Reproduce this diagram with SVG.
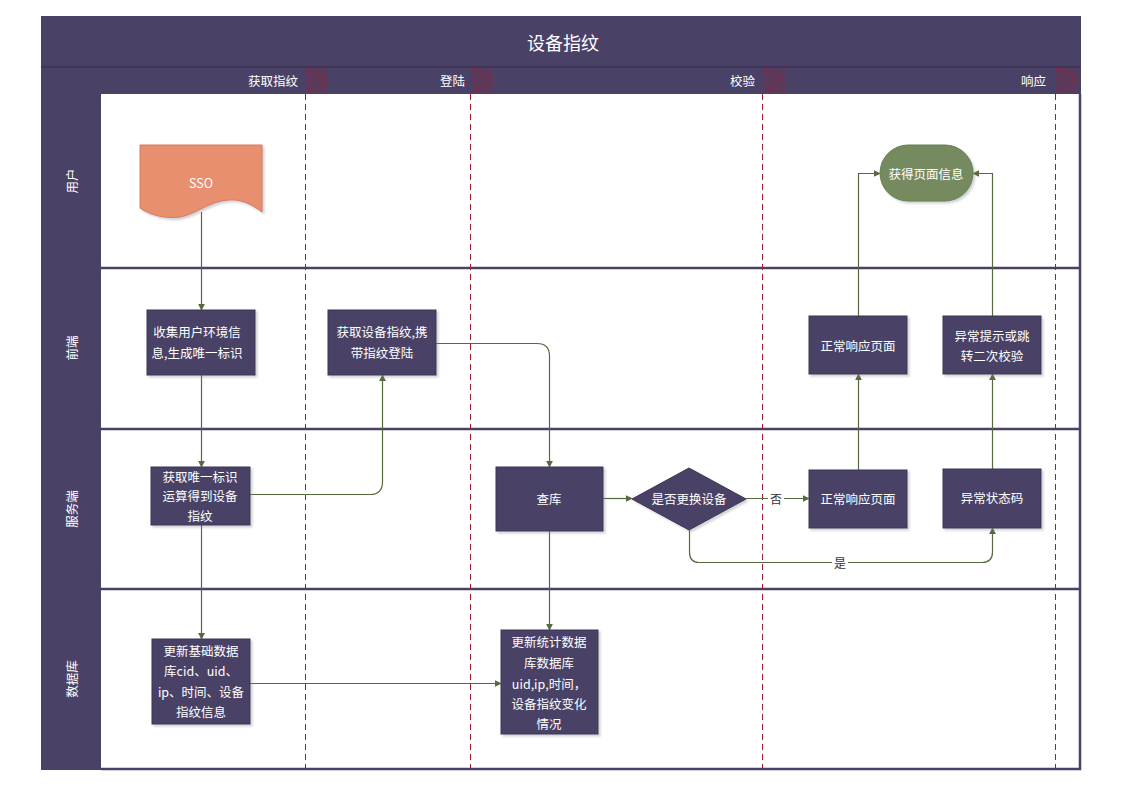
<svg xmlns="http://www.w3.org/2000/svg" width="1123" height="794" viewBox="0 0 1123 794">
  <defs>
    <style>
      .band { fill: #4A4266; }
      .sep { stroke: #3A3354; stroke-width: 1.5; fill: none; }
      .lane-line { stroke: #4A4266; stroke-width: 2.5; fill: none; }
      .phase { stroke: #A01C32; stroke-width: 1; stroke-dasharray: 6 4; fill: none; }
      .mark { fill: #A01C32; fill-opacity: 0.22; }
      .node { fill: #4A4266; stroke: #3A3354; stroke-width: 1; filter: url(#shadow); }
      .t { font-family: "Noto Sans CJK SC", "Liberation Sans", sans-serif; fill: #FFFFFF; font-size: 12.5px; text-anchor: middle; dominant-baseline: central; }
      .title { font-size: 18px; }
      .hdr { font-size: 12.5px; text-anchor: end; }
      .lbl { font-family: "Noto Sans CJK SC", "Liberation Sans", sans-serif; fill: #333333; font-size: 12px; text-anchor: middle; dominant-baseline: central; }
      .edge { stroke: #56693F; stroke-width: 1.2; fill: none; marker-end: url(#arrow); }
    </style>
    <marker id="arrow" viewBox="0 0 10 10" refX="9" refY="5" markerWidth="7" markerHeight="7" markerUnits="userSpaceOnUse" orient="auto">
      <path d="M0,0 L10,5 L0,10 Z" fill="#56693F"/>
    </marker>
    <filter id="shadow" x="-10%" y="-10%" width="130%" height="130%">
      <feDropShadow dx="2" dy="2" stdDeviation="1.2" flood-color="#8A8A9A" flood-opacity="0.4"/>
    </filter>
  </defs>

  <rect x="0" y="0" width="1123" height="794" fill="#FFFFFF"/>

  <!-- pool frame -->
  <g id="pool">
    <rect class="band" x="41" y="16" width="1040" height="78"/>
    <line class="sep" x1="41" y1="67" x2="1081" y2="67"/>
    <text class="t title" x="563" y="42">设备指纹</text>
    <rect class="band" x="41" y="93" width="60" height="677"/>
    <line class="lane-line" x1="101" y1="268" x2="1081" y2="268"/>
    <line class="lane-line" x1="101" y1="429" x2="1081" y2="429"/>
    <line class="lane-line" x1="101" y1="589" x2="1081" y2="589"/>
    <line class="lane-line" x1="101" y1="769" x2="1081" y2="769"/>
    <line class="lane-line" x1="1080" y1="94" x2="1080" y2="770"/>
    <text class="t" transform="translate(71,181) rotate(-90)">用户</text>
    <text class="t" transform="translate(71,348) rotate(-90)">前端</text>
    <text class="t" transform="translate(71,509) rotate(-90)">服务端</text>
    <text class="t" transform="translate(71,679) rotate(-90)">数据库</text>
  </g>

  <!-- phases -->
  <g id="phases">
    <text class="t hdr" x="298" y="80">获取指纹</text>
    <text class="t hdr" x="465" y="80">登陆</text>
    <text class="t hdr" x="755" y="80">校验</text>
    <text class="t hdr" x="1046" y="80">响应</text>
    <rect class="mark" x="306" y="68" width="22" height="26"/>
    <rect class="mark" x="471" y="68" width="22" height="26"/>
    <rect class="mark" x="763" y="68" width="22" height="26"/>
    <rect class="mark" x="1056" y="68" width="22" height="26"/>
    <path class="phase" d="M305.5,68 L327,80 L305.5,94"/>
    <path class="phase" d="M470.5,68 L492,80 L470.5,94"/>
    <path class="phase" d="M762.5,68 L784,80 L762.5,94"/>
    <path class="phase" d="M1055.5,68 L1077,80 L1055.5,94"/>
    <line class="phase" x1="305.5" y1="94" x2="305.5" y2="768"/>
    <line class="phase" x1="470.5" y1="94" x2="470.5" y2="768"/>
    <line class="phase" x1="762.5" y1="94" x2="762.5" y2="768"/>
    <line class="phase" x1="1055.5" y1="94" x2="1055.5" y2="768"/>
  </g>

  <!-- connectors -->
  <g id="connectors">
    <path class="edge" d="M201.5,212 V310"/>
    <path class="edge" d="M201.5,375 V467"/>
    <path class="edge" d="M250,494.5 H370 Q382.5,494.5 382.5,482 V375"/>
    <path class="edge" d="M436,343.5 H537 Q549.5,343.5 549.5,356 V467"/>
    <path class="edge" d="M201.5,525 V639"/>
    <path class="edge" d="M549.5,531 V630"/>
    <path class="edge" d="M250,683.5 H501"/>
    <path class="edge" d="M603,498.5 H632"/>
    <path class="edge" d="M746,498.5 H809"/>
    <path class="edge" d="M689.5,530 V552 Q689.5,562.5 699,562.5 H982 Q992.5,562.5 992.5,552 V528"/>
    <path class="edge" d="M858.5,470 V374"/>
    <path class="edge" d="M992.5,469 V374"/>
    <path class="edge" d="M858.5,316 V173.5 H880"/>
    <path class="edge" d="M992.5,316 V173.5 H973"/>
    <rect x="768" y="490" width="16" height="16" fill="#FFFFFF"/>
    <text class="lbl" x="776" y="498">否</text>
    <rect x="832" y="554" width="16" height="16" fill="#FFFFFF"/>
    <text class="lbl" x="840" y="562">是</text>
  </g>

  <!-- nodes -->
  <g id="sso">
    <path d="M140,145 H262 V212 C250,203 240,199 228,200 C210,201 196,214 180,217 C165,219 150,215 140,208 Z" fill="#E88F70" stroke="#D87A5C" stroke-width="1" filter="url(#shadow)"/>
    <text class="t" x="201" y="182">SSO</text>
  </g>

  <g id="collect-env">
    <rect class="node" x="147" y="310" width="108" height="65"/>
    <text class="t" x="197" y="331">收集用户环境信</text>
    <text class="t" x="197" y="352">息,生成唯一标识</text>
  </g>

  <g id="login-with-fp">
    <rect class="node" x="328" y="310" width="108" height="65"/>
    <text class="t" x="382" y="331">获取设备指纹,携</text>
    <text class="t" x="382" y="352">带指纹登陆</text>
  </g>

  <g id="compute-fp">
    <rect class="node" x="151" y="467" width="99" height="58"/>
    <text class="t" x="200" y="476">获取唯一标识</text>
    <text class="t" x="200" y="495">运算得到设备</text>
    <text class="t" x="200" y="515">指纹</text>
  </g>

  <g id="query-db">
    <rect class="node" x="496" y="467" width="107" height="64"/>
    <text class="t" x="549" y="498">查库</text>
  </g>

  <g id="device-changed">
    <path class="node" d="M689,468 L746,499 L689,530 L632,499 Z"/>
    <text class="t" x="689" y="498">是否更换设备</text>
  </g>

  <g id="server-normal">
    <rect class="node" x="809" y="470" width="98" height="58"/>
    <text class="t" x="858" y="498">正常响应页面</text>
  </g>

  <g id="server-error">
    <rect class="node" x="943" y="469" width="98" height="59"/>
    <text class="t" x="992" y="497">异常状态码</text>
  </g>

  <g id="front-normal">
    <rect class="node" x="809" y="316" width="98" height="58"/>
    <text class="t" x="858" y="345">正常响应页面</text>
  </g>

  <g id="front-error">
    <rect class="node" x="943" y="316" width="98" height="58"/>
    <text class="t" x="992" y="335">异常提示或跳</text>
    <text class="t" x="992" y="355">转二次校验</text>
  </g>

  <g id="page-info">
    <rect x="880" y="145" width="93" height="56" rx="28" ry="28" fill="#748B5E" stroke="#66804F" stroke-width="1" filter="url(#shadow)"/>
    <text class="t" x="926" y="173">获得页面信息</text>
  </g>

  <g id="update-base">
    <rect class="node" x="152" y="639" width="98" height="85"/>
    <text class="t" x="201" y="650">更新基础数据</text>
    <text class="t" x="201" y="670">库cid、uid、</text>
    <text class="t" x="201" y="691">ip、时间、设备</text>
    <text class="t" x="201" y="711">指纹信息</text>
  </g>

  <g id="update-stats">
    <rect class="node" x="501" y="630" width="97" height="104"/>
    <text class="t" x="549" y="641">更新统计数据</text>
    <text class="t" x="549" y="662">库数据库</text>
    <text class="t" x="549" y="683">uid,ip,时间，</text>
    <text class="t" x="549" y="703">设备指纹变化</text>
    <text class="t" x="549" y="723">情况</text>
  </g>
</svg>
